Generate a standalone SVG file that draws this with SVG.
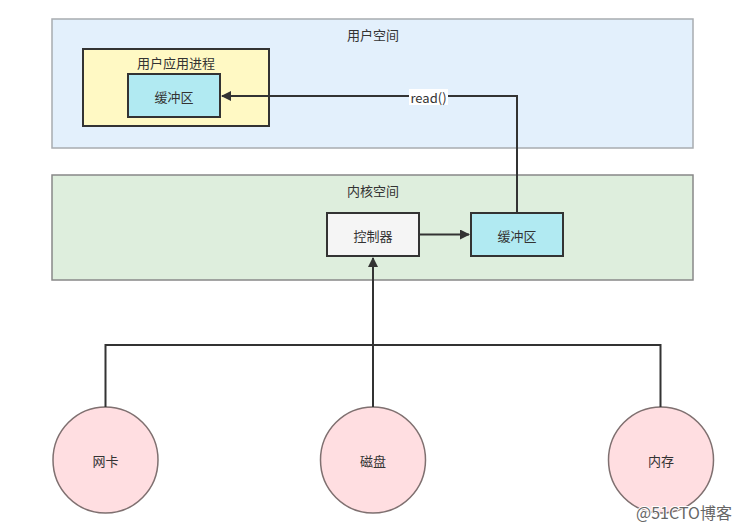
<svg xmlns="http://www.w3.org/2000/svg" width="741" height="530" viewBox="0 0 741 530">
<style>
text{font-family:"Noto Sans CJK SC","Liberation Sans",sans-serif;font-size:13px;fill:#333;text-anchor:middle;dominant-baseline:central}
.box{stroke:#333;stroke-width:2}
.conn{fill:none;stroke:#333;stroke-width:2}
.ell{fill:#FFDEE1;stroke:#7F7070;stroke-width:1.5}
</style>
<defs>
<marker id="ah" markerWidth="10" markerHeight="10" refX="9" refY="5" orient="auto" markerUnits="userSpaceOnUse">
<path d="M0,0 L10,5 L0,10 Z" fill="#333"/>
</marker>
</defs>
<rect width="741" height="530" fill="#fff"/>
<g id="user-space">
<rect x="52" y="19" width="641" height="129" fill="#E3F0FC" stroke="#A8ACB0" stroke-width="1.5"/>
<text x="373" y="34">用户空间</text>
</g>
<g id="user-process">
<rect class="box" x="83" y="49" width="186" height="77" fill="#FFF9C4"/>
<text x="176" y="62">用户应用进程</text>
</g>
<g id="user-buffer">
<rect class="box" x="128" y="74" width="92" height="43" fill="#B1EAF2"/>
<text x="174" y="96">缓冲区</text>
</g>
<g id="kernel-space">
<rect x="52" y="175" width="641" height="105" fill="#DEEEDD" stroke="#888" stroke-width="1.5"/>
<text x="373" y="190">内核空间</text>
</g>
<g id="controller">
<rect class="box" x="327" y="213" width="92" height="43" fill="#F5F5F5"/>
<text x="373" y="235">控制器</text>
</g>
<g id="kernel-buffer">
<rect class="box" x="471" y="213" width="92" height="43" fill="#B1EAF2"/>
<text x="517" y="235">缓冲区</text>
</g>
<g id="nic">
<ellipse class="ell" cx="105.5" cy="460" rx="52.5" ry="53"/>
<text x="105.5" y="460">网卡</text>
</g>
<g id="disk">
<ellipse class="ell" cx="373" cy="460" rx="52.5" ry="53"/>
<text x="373" y="460">磁盘</text>
</g>
<g id="memory">
<ellipse class="ell" cx="661" cy="460" rx="52.5" ry="53"/>
<text x="661" y="460">内存</text>
</g>
<g id="connectors">
<path class="conn" d="M517,213 L517,96 L222,96" marker-end="url(#ah)"/>
<rect x="409" y="89" width="39" height="16" fill="#fff"/>
<text x="428.5" y="97">read()</text>
<path class="conn" d="M419,234.5 L469,234.5" marker-end="url(#ah)"/>
<path class="conn" d="M373,407 L373,258" marker-end="url(#ah)"/>
<path class="conn" d="M105.5,407 L105.5,345 L660.5,345 L660.5,407"/>
</g>
<text x="684" y="512" style="font-size:16px;fill:#666;stroke:#fff;stroke-width:2;paint-order:stroke">@51CTO博客</text>
</svg>
